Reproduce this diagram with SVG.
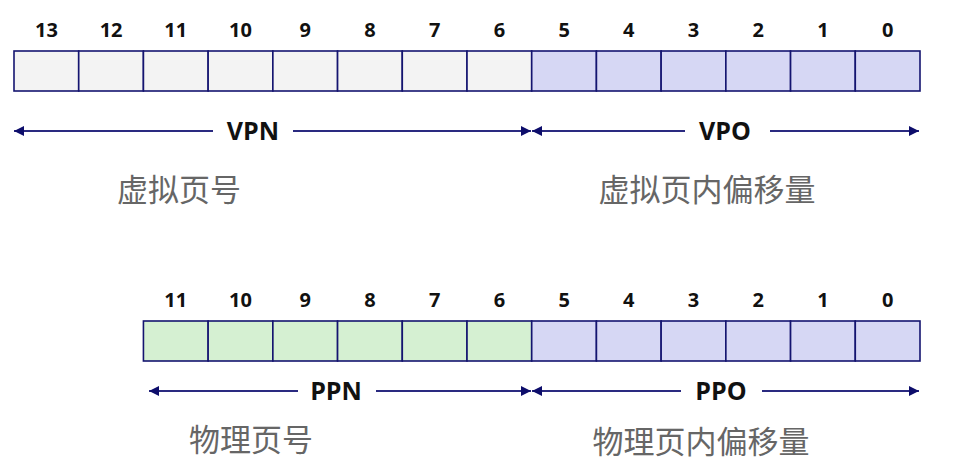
<svg xmlns="http://www.w3.org/2000/svg" width="955" height="467" viewBox="0 0 955 467">
<defs>
<marker id="ah" viewBox="0 0 10 10" refX="10" refY="5" markerWidth="10" markerHeight="10" markerUnits="userSpaceOnUse" orient="auto-start-reverse">
<path d="M0,0 L10,5 L0,10 Z" fill="#0d0d6b"/>
</marker>
</defs>
<style>
.c{stroke:#141470;stroke-width:1.6}
.g{fill:#f3f3f3}
.b{fill:#d6d7f4}
.gr{fill:#d5f0d2}
.n{font-family:"Open Sans","Liberation Sans",sans-serif;font-weight:bold;font-size:20px;fill:#111;text-anchor:middle}
.l{font-family:"Open Sans","Liberation Sans",sans-serif;font-weight:bold;font-size:25px;fill:#111;text-anchor:middle}
.z{font-family:"Noto Sans CJK SC",sans-serif;font-size:31px;fill:#666;text-anchor:middle}
.a{stroke:#2a2a80;stroke-width:1.8;fill:none}
</style>
<g id="vaddr">
<g class="c g">
<rect x="14" y="51" width="64.71" height="40"/>
<rect x="78.71" y="51" width="64.71" height="40"/>
<rect x="143.43" y="51" width="64.71" height="40"/>
<rect x="208.14" y="51" width="64.71" height="40"/>
<rect x="272.86" y="51" width="64.71" height="40"/>
<rect x="337.57" y="51" width="64.71" height="40"/>
<rect x="402.29" y="51" width="64.71" height="40"/>
<rect x="467" y="51" width="64.71" height="40"/>
</g>
<g class="c b">
<rect x="531.71" y="51" width="64.71" height="40"/>
<rect x="596.43" y="51" width="64.71" height="40"/>
<rect x="661.14" y="51" width="64.71" height="40"/>
<rect x="725.86" y="51" width="64.71" height="40"/>
<rect x="790.57" y="51" width="64.71" height="40"/>
<rect x="855.29" y="51" width="64.71" height="40"/>
</g>
<g class="n">
<text x="46.4" y="37">13</text>
<text x="111.1" y="37">12</text>
<text x="175.8" y="37">11</text>
<text x="240.5" y="37">10</text>
<text x="305.2" y="37">9</text>
<text x="369.9" y="37">8</text>
<text x="434.6" y="37">7</text>
<text x="499.4" y="37">6</text>
<text x="564.1" y="37">5</text>
<text x="628.8" y="37">4</text>
<text x="693.5" y="37">3</text>
<text x="758.2" y="37">2</text>
<text x="822.9" y="37">1</text>
<text x="887.6" y="37">0</text>
</g>
</g>
<g id="paddr">
<g class="c gr">
<rect x="143.43" y="321" width="64.71" height="40"/>
<rect x="208.14" y="321" width="64.71" height="40"/>
<rect x="272.86" y="321" width="64.71" height="40"/>
<rect x="337.57" y="321" width="64.71" height="40"/>
<rect x="402.29" y="321" width="64.71" height="40"/>
<rect x="467" y="321" width="64.71" height="40"/>
</g>
<g class="c b">
<rect x="531.71" y="321" width="64.71" height="40"/>
<rect x="596.43" y="321" width="64.71" height="40"/>
<rect x="661.14" y="321" width="64.71" height="40"/>
<rect x="725.86" y="321" width="64.71" height="40"/>
<rect x="790.57" y="321" width="64.71" height="40"/>
<rect x="855.29" y="321" width="64.71" height="40"/>
</g>
<g class="n">
<text x="175.8" y="307">11</text>
<text x="240.5" y="307">10</text>
<text x="305.2" y="307">9</text>
<text x="369.9" y="307">8</text>
<text x="434.6" y="307">7</text>
<text x="499.4" y="307">6</text>
<text x="564.1" y="307">5</text>
<text x="628.8" y="307">4</text>
<text x="693.5" y="307">3</text>
<text x="758.2" y="307">2</text>
<text x="822.9" y="307">1</text>
<text x="887.6" y="307">0</text>
</g>
</g>
<g id="connectors">
<line class="a" x1="213" y1="131" x2="14" y2="131" marker-end="url(#ah)"/>
<line class="a" x1="293" y1="131" x2="531" y2="131" marker-end="url(#ah)"/>
<line class="a" x1="685" y1="131" x2="532" y2="131" marker-end="url(#ah)"/>
<line class="a" x1="770" y1="131" x2="919" y2="131" marker-end="url(#ah)"/>
<line class="a" x1="298" y1="391" x2="149" y2="391" marker-end="url(#ah)"/>
<line class="a" x1="376" y1="391" x2="531" y2="391" marker-end="url(#ah)"/>
<line class="a" x1="681" y1="391" x2="532" y2="391" marker-end="url(#ah)"/>
<line class="a" x1="762" y1="391" x2="919" y2="391" marker-end="url(#ah)"/>
</g>
<g id="labels">
<text class="l" x="253" y="140">VPN</text>
<text class="l" x="725" y="140">VPO</text>
<text class="l" x="336" y="400">PPN</text>
<text class="l" x="721" y="400">PPO</text>
<text class="z" x="179" y="201">虚拟页号</text>
<text class="z" x="707" y="201">虚拟页内偏移量</text>
<text class="z" x="251" y="451">物理页号</text>
<text class="z" x="701" y="453">物理页内偏移量</text>
</g>
</svg>
